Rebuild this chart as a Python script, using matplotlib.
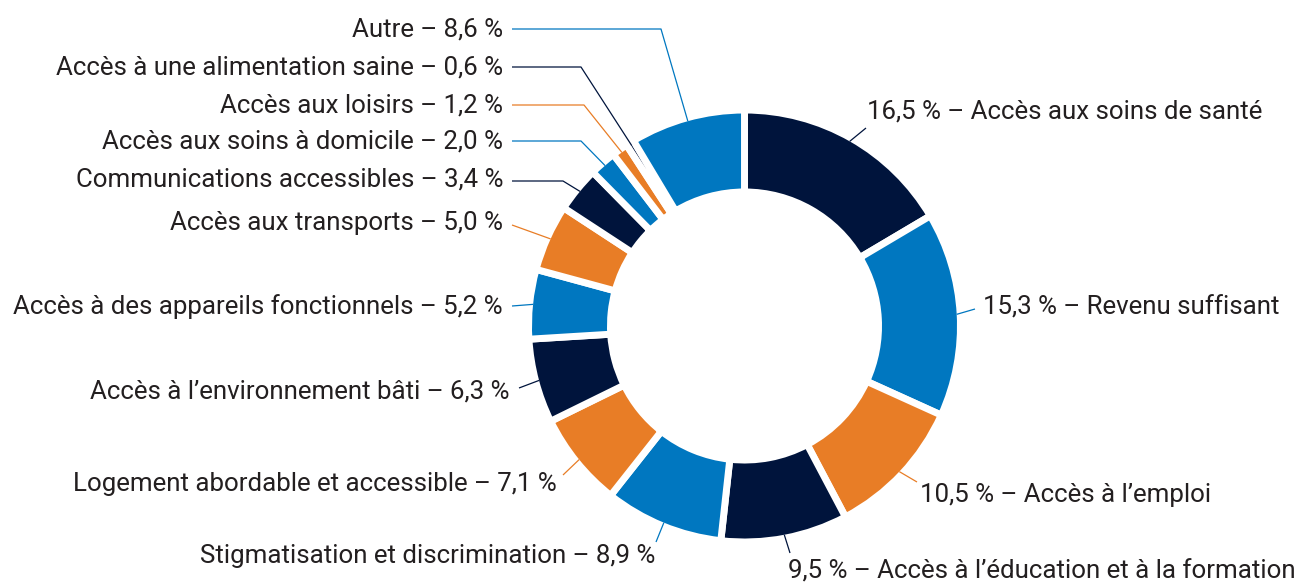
import numpy as np
import matplotlib
matplotlib.use("Agg")
import matplotlib.pyplot as plt

# ---- data ----
labels = [
    "Accès aux soins de santé",
    "Revenu suffisant",
    "Accès à l’emploi",
    "Accès à l’éducation et à la formation",
    "Stigmatisation et discrimination",
    "Logement abordable et accessible",
    "Accès à l’environnement bâti",
    "Accès à des appareils fonctionnels",
    "Accès aux transports",
    "Communications accessibles",
    "Accès aux soins à domicile",
    "Accès aux loisirs",
    "Accès à une alimentation saine",
    "Autre",
]
values = [16.5, 15.3, 10.5, 9.5, 8.9, 7.1, 6.3, 5.2, 5.0, 3.4, 2.0, 1.2, 0.6, 8.6]

NAVY, BLUE, ORANGE = "#00143c", "#0077c0", "#e87d26"
colors = [NAVY, BLUE, ORANGE, NAVY, BLUE, ORANGE, NAVY, BLUE, ORANGE,
          NAVY, BLUE, ORANGE, NAVY, BLUE]

# ---- layout (pixel space, y measured from top) ----
W, H = 1301, 583
CX, CY = 744.5, 326.0
R_OUT, R_IN = 212.5, 137.5
GAP_PT = 5.0
TEXT_COLOR = "#231f20"
FS = 18.6

# label layout: (side, elbow points..., text x, text y)
layout = [
    ("R", [(866, 128)], 867, 112),
    ("R", [(975, 309)], 983, 308),
    ("R", [(917, 482)], 920, 495),
    ("R", [(790, 553)], 788, 572),
    ("L", [(656, 542)], 655, 556),
    ("L", [(563, 475)], 557, 484),
    ("L", [(519, 388)], 510, 392),
    ("L", [(512, 306)], 503, 307),
    ("L", [(512, 225)], 503, 223),
    ("L", [(563, 181), (512, 181)], 503, 180),
    ("L", [(581, 141), (512, 141)], 503, 141),
    ("L", [(584, 105), (512, 105)], 503, 105),
    ("L", [(581, 67), (512, 67)], 503, 67),
    ("L", [(661, 29), (512, 29)], 503, 29),
]

def fy(y):
    return H - y

fig = plt.figure(figsize=(W / 100, H / 100), dpi=100)
ax = fig.add_axes([0, 0, 1, 1])

lw_px = GAP_PT * 100 / 72
R = R_OUT + lw_px / 2
width = (R_OUT - R_IN) + lw_px
wedges, _ = ax.pie(values, colors=colors, startangle=90, counterclock=False,
                   radius=R, center=(CX, fy(CY)), frame=True,
                   wedgeprops=dict(width=width, edgecolor="white",
                                   linewidth=GAP_PT))

total = sum(values)
cum = 0.0
for i, (v, lab) in enumerate(zip(values, labels)):
    mid = (cum + v / 2) / total
    cum += v
    ang = np.deg2rad(90 - 360 * mid)
    sx = CX + R_OUT * np.cos(ang)
    sy = CY - R_OUT * np.sin(ang)
    side, pts, tx, ty = layout[i]
    xs = [sx] + [p[0] for p in pts]
    ys = [fy(sy)] + [fy(p[1]) for p in pts]
    ax.plot(xs, ys, color=colors[i], lw=0.9, solid_capstyle="butt", zorder=1)
    val = f"{v:.1f}".replace(".", ",")
    if side == "R":
        txt = f"{val} % – {lab}"
        ha = "left"
    else:
        txt = f"{lab} – {val} %"
        ha = "right"
    ax.text(tx, fy(ty), txt, ha=ha, va="center", fontsize=FS,
            family=["Roboto", "DejaVu Sans"], color=TEXT_COLOR)

ax.set_xlim(0, W)
ax.set_ylim(0, H)
ax.set_aspect("equal")
ax.axis("off")
fig.savefig("out.png", dpi=100, facecolor="white")
